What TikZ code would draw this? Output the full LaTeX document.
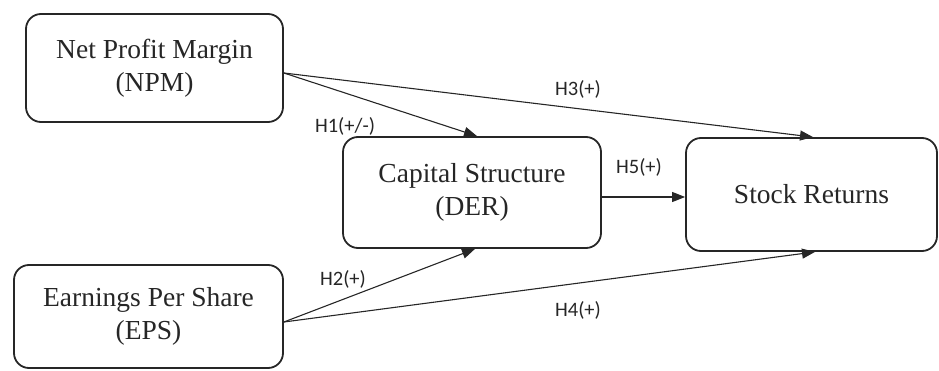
\documentclass[tikz,border=0pt]{standalone}
\usepackage{fontspec}
\setmainfont{Liberation Serif}
\newfontfamily\labfont{Carlito}
\usetikzlibrary{arrows.meta,calc}
\begin{document}
\begin{tikzpicture}[x=1pt,y=-1pt,
  box/.style={draw=black!85, line width=1.8pt, rounded corners=15pt, align=center,
    inner sep=0pt, font=\fontsize{27.5}{33}\selectfont, text=black!85},
  link/.style={draw=black!85, line width=1.1pt, -{Triangle[length=13pt,width=10pt]}},
  hlab/.style={font=\labfont\fontsize{20.5}{24}\selectfont, text=black!85, inner sep=0pt}]
\useasboundingbox (0,0) rectangle (939,371);
\node[box, minimum width=257pt, minimum height=108pt] (npm) at (154.5,68) {Net Profit Margin\\(NPM)};
\node[box, minimum width=269pt, minimum height=103pt] (eps) at (148.5,316.5) {Earnings Per Share\\(EPS)};
\node[box, minimum width=258pt, minimum height=111pt] (der) at (472,192.5) {Capital Structure\\(DER)};
\node[box, minimum width=251pt, minimum height=113pt] (sr) at (811.5,194.5) {Stock Returns};
\coordinate (npmo) at ($(npm.east)+(0,5)$);
\coordinate (epso) at ($(eps.east)+(0,5.5)$);
\draw[link] (npmo) -- ([xshift=5pt]der.north);
\draw[link] (npmo) -- ([xshift=1.5pt]sr.north);
\draw[link] (epso) -- ([xshift=3pt]der.south);
\draw[link] (epso) -- ([xshift=3.5pt]sr.south);
\draw[link] (der.east |- 0,197) -- (sr.west |- 0,197);
\node[hlab] (h3) at (578,89) {H3(+)};
\node[hlab] (h1) at (345,126) {H1(+/-)};
\node[hlab] (h2) at (343,279) {H2(+)};
\node[hlab] (h4) at (578,310) {H4(+)};
\node[hlab] (h5) at (639,167) {H5(+)};
\end{tikzpicture}
\end{document}
